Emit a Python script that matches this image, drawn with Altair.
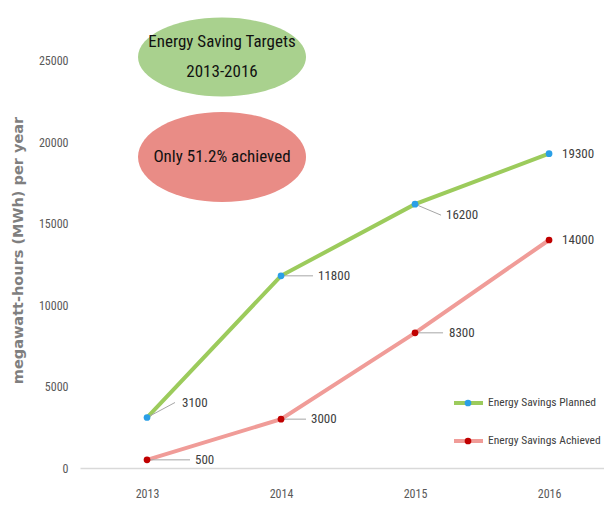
import altair as alt
import pandas as pd

years = [2013, 2014, 2015, 2016]
planned = [3100, 11800, 16200, 19300]
achieved = [500, 3000, 8300, 14000]
series_names = ["Energy Savings Planned", "Energy Savings Achieved"]
y_ticks = [0, 5000, 10000, 15000, 20000, 25000]
title_y = "megawatt-hours (MWh) per year"
note1 = ["Energy Saving Targets", "2013-2016"]
note2 = "Only 51.2% achieved"

rows = []
for yr, p in zip(years, planned):
    rows.append({"year": yr, "value": p, "series": series_names[0]})
for yr, a in zip(years, achieved):
    rows.append({"year": yr, "value": a, "series": series_names[1]})
df = pd.DataFrame(rows)

FONT = "Liberation Sans Narrow, Roboto Condensed, DejaVu Sans Condensed, Liberation Sans, sans-serif"
line_colors = ["#9ccb5c", "#f09c98"]
dot_colors = ["#2a9fe6", "#c00000"]

xs = alt.Scale(domain=[2012.5, 2016.41], nice=False, zero=False)
ys = alt.Scale(domain=[0, 28000], nice=False)

x_enc = alt.X("year:Q", scale=xs, axis=alt.Axis(values=years, format="d", title=None, grid=False,
              ticks=False, domainColor="#d9d9d9", domainWidth=1.5, labelColor="#595959",
              labelFont=FONT, labelFontSize=12, labelPadding=20))
y_enc = alt.Y("value:Q", scale=ys, axis=alt.Axis(values=y_ticks, format="d", grid=False, ticks=False,
              domain=False, labelColor="#595959", labelFont=FONT, labelFontSize=12, labelPadding=12,
              title=title_y, titleFont="DejaVu Sans", titleFontSize=14.5, titleFontWeight="bold",
              titleColor="#7f7f7f", titleAngle=-90, titleX=-62, titleY=238,
              titleAlign="center", titleBaseline="middle"))

base = alt.Chart(df)

lines = base.mark_line(strokeWidth=4).encode(
    x=x_enc, y=y_enc,
    color=alt.Color("series:N", sort=series_names,
                    scale=alt.Scale(domain=series_names, range=line_colors),
                    legend=alt.Legend(orient="none", legendX=372, legendY=383, title=None,
                                      symbolType="stroke", symbolSize=841, symbolStrokeWidth=4,
                                      labelFont=FONT, labelFontSize=11.5, labelColor="#404040",
                                      labelOffset=3, rowPadding=22, clipHeight=16, padding=0)),
    detail="series:N",
)
points = base.mark_point(filled=True, size=45, opacity=1).encode(
    x="year:Q", y="value:Q",
    fill=alt.Fill("series:N", sort=series_names,
                  scale=alt.Scale(domain=series_names, range=dot_colors),
                  legend=alt.Legend(orient="none", legendX=383, legendY=383, title=None,
                                    symbolType="circle", symbolSize=45, labelExpr="''",
                                    labelOffset=0, rowPadding=22, clipHeight=16, padding=0)),
)

# label leader offsets (pixels): (leader dx, leader dy, text dx)
offsets = {
    (series_names[0], 2013): (28, -15, 35),
    (series_names[0], 2014): (32, 0, 37),
    (series_names[0], 2015): (26, 11, 31),
    (series_names[0], 2016): (0, 0, 13),
    (series_names[1], 2013): (43, 0, 48),
    (series_names[1], 2014): (25, 0, 30),
    (series_names[1], 2015): (28, 0, 34),
    (series_names[1], 2016): (0, 0, 13),
}

label_layers = []
for (s, yr), (ldx, ldy, tdx) in offsets.items():
    sub = base.transform_filter((alt.datum.series == s) & (alt.datum.year == yr))
    if ldx:
        label_layers.append(sub.mark_rule(color="#a6a6a6", strokeWidth=1, x2Offset=ldx, y2Offset=ldy).encode(
            x="year:Q", y="value:Q", x2="year:Q", y2="value:Q"))
    label_layers.append(sub.mark_text(align="left", baseline="middle", dx=tdx, dy=ldy,
                                      font=FONT, fontSize=13, color="#404040").encode(
        x="year:Q", y="value:Q", text="value:Q"))

ell1 = "M-1,0 A1,0.47 0 1,1 1,0 A1,0.47 0 1,1 -1,0 Z"
ell2 = "M-1,0 A1,0.536 0 1,1 1,0 A1,0.536 0 1,1 -1,0 Z"
ann = alt.Chart(pd.DataFrame({"a": [0]}))
e1 = ann.mark_point(shape=ell1, size=28224, filled=True, color="#a9d18e", opacity=1).encode(
    x=alt.value(142), y=alt.value(45))
e2 = ann.mark_point(shape=ell2, size=28224, filled=True, color="#e98c86", opacity=1).encode(
    x=alt.value(142), y=alt.value(145))
t1 = ann.mark_text(text=note1, font=FONT, fontSize=17, color="#111111", align="center",
                   baseline="middle", lineHeight=30).encode(x=alt.value(142), y=alt.value(30))
t2 = ann.mark_text(text=note2, font=FONT, fontSize=17, color="#111111", align="center",
                   baseline="middle").encode(x=alt.value(142), y=alt.value(145))

chart = alt.layer(e1, e2, t1, t2, lines, *label_layers, points).resolve_scale(
    color="independent", fill="independent"
).properties(
    width=524, height=456,
    background="white",
    autosize=alt.AutoSizeParams(type="none"),
    padding={"left": 72, "top": 4, "right": 0, "bottom": 34},
).configure_view(stroke=None)

chart.save("out.html", embed_options={"renderer": "svg", "actions": False})
